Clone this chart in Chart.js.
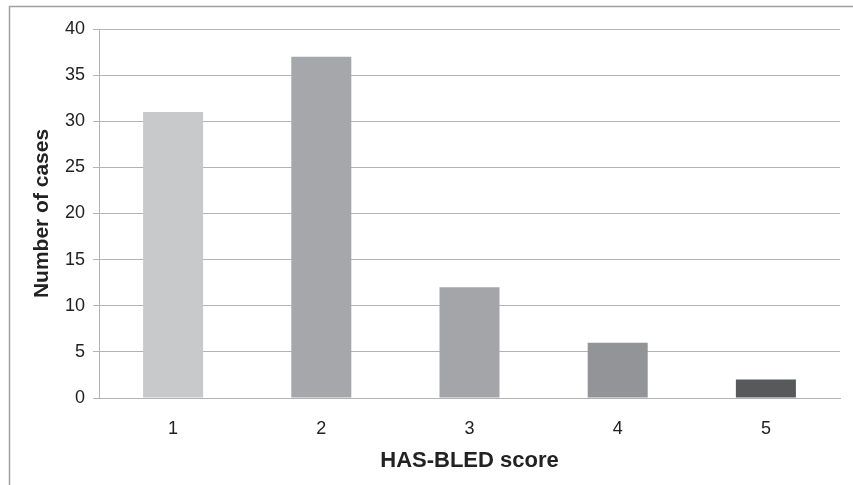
<!DOCTYPE html>
<html>
<head>
<meta charset="utf-8">
<script src="https://cdn.jsdelivr.net/npm/chart.js@4"></script>
<style>
html,body{margin:0;padding:0;background:#fff;}
#wrap{width:853px;height:485px;position:relative;}
</style>
</head>
<body>
<div id="wrap"><canvas id="c" width="853" height="485"></canvas></div>
<script>
const categories = ['1', '2', '3', '4', '5'];
const cases = [31, 37, 12, 6, 2];
const barColors = ['#c8c9cb', '#a6a7aa', '#a4a5a8', '#939497', '#58595b'];
const yTicks = [0, 5, 10, 15, 20, 25, 30, 35, 40];

const framePlugin = {
  id: 'frame',
  afterDraw(chart) {
    const ctx = chart.ctx;
    ctx.save();
    ctx.strokeStyle = '#a0a0a0';
    ctx.lineWidth = 1.5;
    ctx.beginPath();
    ctx.moveTo(9.5, 485);
    ctx.lineTo(9.5, 6.5);
    ctx.lineTo(853, 6.5);
    ctx.stroke();
    ctx.restore();
  }
};

new Chart(document.getElementById('c'), {
  type: 'bar',
  data: {
    labels: categories,
    datasets: [{
      data: cases,
      backgroundColor: barColors,
      borderWidth: 0,
      categoryPercentage: 1,
      barPercentage: 0.405
    }]
  },
  options: {
    responsive: false,
    animation: false,
    layout: { padding: { top: 29, right: 13, left: 0, bottom: 0 } },
    plugins: { legend: { display: false }, tooltip: { enabled: false } },
    scales: {
      x: {
        grid: { display: false, drawTicks: false },
        border: { display: true, color: '#b3b3b3', width: 1 },
        ticks: { color: '#222', font: { family: 'Liberation Sans', size: 18 }, padding: 20 },
        title: { display: true, text: 'HAS-BLED score', color: '#222',
          font: { family: 'Liberation Sans', size: 22, weight: 'bold', lineHeight: 1.2 },
          padding: { top: 0, bottom: 10.8 } },
        afterFit(scale) { scale.height = 87; }
      },
      y: {
        min: 0, max: 40,
        afterBuildTicks(scale) { scale.ticks = yTicks.map(v => ({ value: v })); },
        grid: { color: '#b3b3b3', lineWidth: 1, tickLength: 6, drawTicks: true },
        border: { display: true, color: '#b3b3b3', width: 1 },
        ticks: { color: '#222', font: { family: 'Liberation Sans', size: 18 }, padding: 8 },
        title: { display: true, text: 'Number of cases', color: '#222',
          font: { family: 'Liberation Sans', size: 21, weight: 'bold', lineHeight: 1.2 },
          padding: { top: 29.4, bottom: 0 } },
        afterFit(scale) { scale.width = 99; }
      }
    }
  },
  plugins: [framePlugin]
});
</script>
</body>
</html>
